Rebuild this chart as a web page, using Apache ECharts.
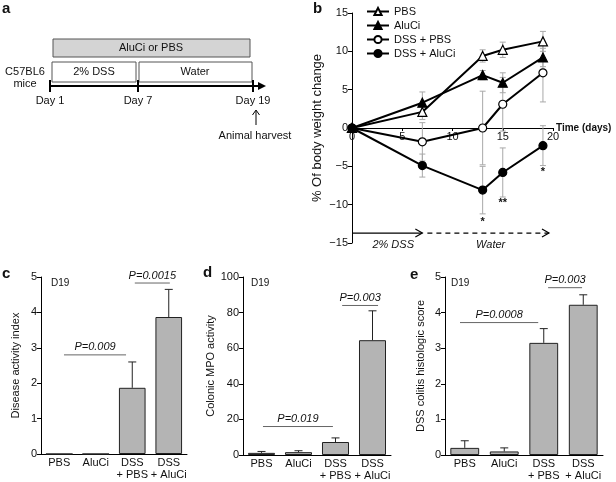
<!DOCTYPE html>
<html>
<head>
<meta charset="utf-8">
<script src="https://cdn.jsdelivr.net/npm/echarts@6/dist/echarts.min.js"></script>
<style>
html, body { margin: 0; padding: 0; background: #fff; }
#chart { width: 616px; height: 482px; }
</style>
</head>
<body>
<div id="chart"></div>
<script>
// panel b: % body weight change over time
var days = [0, 7, 13, 15, 19];
var pbs = [0, 2.1, 9.4, 10.2, 11.3];
var pbsErr = [0, 1.0, 0.8, 1.0, 1.3];
var aluci = [0, 3.3, 6.9, 5.9, 9.2];
var aluciErr = [0, 1.4, 0.6, 1.3, 1.2];
var dssPbs = [0, -1.8, 0, 3.1, 7.2];
var dssPbsErr = [0, 2.5, 4.8, 3.5, 3.8];
var dssAluci = [0, -4.9, -8.1, -5.8, -2.3];
var dssAluciErr = [0, 1.5, 3.1, 3.2, 2.6];
var stars = [[13, -12.2, '*'], [15, -9.8, '**'], [19, -5.8, '*']];
var phases = [[0.1, 7.0, -13.7, 0, '2% DSS', 4.1], [7.5, 19.6, -13.7, 1, 'Water', 13.8]];

// panels c, d, e: day 19
var groups = ['PBS', 'AluCi', 'DSS\n+ PBS', 'DSS\n+ AluCi'];
var dai = [0, 0, 1.87, 3.87];
var daiErr = [0, 0, 0.73, 0.78];
var mpo = [1.2, 1.6, 7.3, 64.5];
var mpoErr = [0.8, 0.8, 2.3, 16.5];
var histo = [0.2, 0.1, 3.15, 4.22];
var histoErr = [0.2, 0.1, 0.4, 0.28];
var daiP = [[0.13, 1.83, 2.8, 'P=0.009'], [2.07, 3.03, 4.83, 'P=0.0015']];
var mpoP = [[0.04, 1.93, 16, 'P=0.019'], [2.18, 3.15, 84, 'P=0.003']];
var histoP = [[-0.12, 1.86, 3.72, 'P=0.0008'], [2.11, 2.97, 4.7, 'P=0.003']];

var FONT = "'Liberation Sans', Arial, sans-serif";

function txt(x, y, s, opt) {
  opt = opt || {};
  return {
    type: 'text', x: x, y: y, silent: true,
    style: {
      text: s, fill: '#111',
      font: (opt.font || '11px') + ' ' + FONT,
      align: opt.align || 'center', textAlign: opt.align || 'center',
      verticalAlign: 'middle', textVerticalAlign: 'middle'
    }
  };
}
function ln(x1, y1, x2, y2, w, c) {
  return { type: 'line', silent: true, shape: { x1: x1, y1: y1, x2: x2, y2: y2 },
    style: { stroke: c || '#000', lineWidth: w || 1 } };
}

// error bars for the time course (symmetric, grey)
function pack(vals, errs) {
  return days.map(function (d, i) { return [d, vals[i], errs[i]]; });
}
var errB = [].concat(pack(pbs, pbsErr), pack(aluci, aluciErr), pack(dssPbs, dssPbsErr), pack(dssAluci, dssAluciErr))
  .filter(function (r) { return r[2] > 0; });

function errSym(params, api) {
  var x = api.value(0), y = api.value(1), e = api.value(2);
  var t = api.coord([x, y + e]), b = api.coord([x, y - e]);
  var st = { stroke: '#a8a8a8', lineWidth: 1 };
  return { type: 'group', children: [
    { type: 'line', shape: { x1: t[0], y1: t[1], x2: b[0], y2: b[1] }, style: st },
    { type: 'line', shape: { x1: t[0] - 3, y1: t[1], x2: t[0] + 3, y2: t[1] }, style: st },
    { type: 'line', shape: { x1: b[0] - 3, y1: b[1], x2: b[0] + 3, y2: b[1] }, style: st }
  ] };
}
function errUp(params, api) {
  var x = api.value(0), y = api.value(1), e = api.value(2);
  if (!(e > 0)) return null;
  var p = api.coord([x, y]), t = api.coord([x, y + e]);
  var st = { stroke: '#222', lineWidth: 1 };
  return { type: 'group', children: [
    { type: 'line', shape: { x1: p[0], y1: p[1], x2: t[0], y2: t[1] }, style: st },
    { type: 'line', shape: { x1: t[0] - 4, y1: t[1], x2: t[0] + 4, y2: t[1] }, style: st }
  ] };
}
function bracketFor(rows) {
  return function (params, api) {
    var r = rows[params.dataIndex];
    var base = api.coord([0, r[2]]);
    var w = api.size([1, 0])[0];
    var x1 = base[0] + r[0] * w, x2 = base[0] + r[1] * w;
    return { type: 'group', children: [
      { type: 'line', shape: { x1: x1, y1: base[1], x2: x2, y2: base[1] }, style: { stroke: '#666', lineWidth: 1 } },
      { type: 'text', x: (x1 + x2) / 2, y: base[1] - 2,
        style: { text: r[3], fill: '#111', font: 'italic 11px ' + FONT,
          align: 'center', textAlign: 'center', verticalAlign: 'bottom', textVerticalAlign: 'bottom' } }
    ] };
  };
}
function starItem(params, api) {
  var r = stars[params.dataIndex];
  var p = api.coord([r[0], r[1]]);
  return { type: 'text', x: p[0], y: p[1],
    style: { text: r[2], fill: '#111', font: 'bold 11px ' + FONT,
      align: 'center', textAlign: 'center', verticalAlign: 'middle', textVerticalAlign: 'middle' } };
}
function phaseItem(params, api) {
  var r = phases[params.dataIndex];
  var a = api.coord([r[0], r[2]]), b = api.coord([r[1], r[2]]);
  var lab = api.coord([r[5], r[2]]);
  var st = { stroke: '#000', lineWidth: 1.2, lineDash: r[3] ? [5, 4] : null };
  return { type: 'group', children: [
    { type: 'line', shape: { x1: a[0], y1: a[1], x2: b[0], y2: b[1] }, style: st },
    { type: 'polyline', shape: { points: [[b[0] - 7, b[1] - 4], [b[0], b[1]], [b[0] - 7, b[1] + 4]] },
      style: { stroke: '#000', lineWidth: 1.2, fill: null } },
    { type: 'text', x: lab[0], y: lab[1] + 12,
      style: { text: r[4], fill: '#111', font: 'italic 11px ' + FONT,
        align: 'center', textAlign: 'center', verticalAlign: 'middle', textVerticalAlign: 'middle' } }
  ] };
}

function lineSeries(name, vals, sym, filled) {
  return {
    name: name, type: 'line', xAxisIndex: 0, yAxisIndex: 0, z: 3,
    data: days.map(function (d, i) { return [d, vals[i]]; }),
    symbol: sym, symbolSize: sym === 'triangle' ? 9 : 8,
    lineStyle: { color: '#000', width: 2 },
    itemStyle: { color: filled ? '#000' : '#fff', borderColor: '#000', borderWidth: 1.2 }
  };
}
function barAxes(idx) {
  return {
    type: 'category', gridIndex: idx, data: groups,
    axisLine: { lineStyle: { color: '#000' } },
    axisTick: { length: 4, interval: 0, lineStyle: { color: '#000' } },
    axisLabel: { interval: 0, fontSize: 11, lineHeight: 12, margin: 3, color: '#111', fontFamily: FONT }
  };
}
function valAxis(idx, max, step, name, gap) {
  return {
    type: 'value', gridIndex: idx, min: 0, max: max, interval: step,
    name: name, nameLocation: 'middle', nameGap: gap,
    nameTextStyle: { fontSize: 11, color: '#111', fontFamily: FONT },
    axisLine: { show: true, lineStyle: { color: '#000' } },
    axisTick: { show: true, length: 4, lineStyle: { color: '#000' } },
    axisLabel: { fontSize: 11, margin: 4, color: '#111', fontFamily: FONT },
    splitLine: { show: false }
  };
}
function barSet(idx, vals, errs, pRows) {
  return [
    { type: 'bar', xAxisIndex: idx, yAxisIndex: idx, data: vals, barWidth: '73%',
      itemStyle: { color: '#b4b4b4', borderColor: '#222', borderWidth: 1 }, silent: true },
    { type: 'custom', xAxisIndex: idx, yAxisIndex: idx, renderItem: errUp, z: 4, silent: true,
      encode: { x: 0, y: 1 }, data: vals.map(function (v, i) { return [i, v, errs[i]]; }) },
    { type: 'custom', xAxisIndex: idx, yAxisIndex: idx, renderItem: bracketFor(pRows), z: 4, silent: true,
      clip: false, encode: { x: 0, y: 2 }, data: pRows.map(function (r) { return [r[0], r[1], r[2]]; }) }
  ];
}

// panel a schematic + panel letters
var schematic = [
  txt(2, 9, 'a', { font: 'bold 15px', align: 'left' }),
  { type: 'rect', silent: true, shape: { x: 53, y: 39, width: 197, height: 18 },
    style: { fill: '#d4d4d4', stroke: '#555', lineWidth: 1 } },
  txt(151, 48, 'AluCi or PBS'),
  { type: 'rect', silent: true, shape: { x: 52, y: 62, width: 84, height: 20 },
    style: { fill: '#fff', stroke: '#555', lineWidth: 1 } },
  txt(94, 72, '2% DSS'),
  { type: 'rect', silent: true, shape: { x: 139, y: 62, width: 113, height: 20 },
    style: { fill: '#fff', stroke: '#555', lineWidth: 1 } },
  txt(195, 72, 'Water'),
  ln(50, 86, 262, 86, 2),
  { type: 'polygon', silent: true, shape: { points: [[258, 82], [266, 86], [258, 90]] }, style: { fill: '#000' } },
  ln(50, 80, 50, 92, 2), ln(138, 80, 138, 92, 2), ln(253, 80, 253, 92, 2),
  txt(25, 72, 'C57BL6'), txt(25, 84, 'mice'),
  txt(50, 101, 'Day 1'), txt(138, 101, 'Day 7'), txt(253, 101, 'Day 19'),
  ln(256, 125, 256, 111, 1),
  { type: 'polyline', silent: true, shape: { points: [[252.5, 115], [256, 110], [259.5, 115]] },
    style: { stroke: '#000', lineWidth: 1, fill: null } },
  txt(255, 136, 'Animal harvest'),
  txt(313, 9, 'b', { font: 'bold 15px', align: 'left' }),
  txt(556, 128, 'Time (days)', { font: 'bold 10px', align: 'left' }),
  txt(2, 274, 'c', { font: 'bold 15px', align: 'left' }),
  txt(203, 273, 'd', { font: 'bold 15px', align: 'left' }),
  txt(410, 275, 'e', { font: 'bold 15px', align: 'left' }),
  txt(51, 283, 'D19', { font: '10px', align: 'left' }),
  txt(251, 283, 'D19', { font: '10px', align: 'left' }),
  txt(451, 283, 'D19', { font: '10px', align: 'left' })
];

var chart = echarts.init(document.getElementById('chart'));
chart.setOption({
  animation: false,
  backgroundColor: '#fff',
  textStyle: { fontFamily: FONT },
  graphic: { elements: schematic },
  legend: {
    left: 361, top: 1, orient: 'vertical', itemWidth: 22, itemHeight: 9, itemGap: 3,
    textStyle: { fontSize: 11, color: '#111', fontFamily: FONT },
    data: ['PBS', 'AluCi', 'DSS + PBS', 'DSS + AluCi']
  },
  grid: [
    { left: 352, top: 13, width: 201, height: 230, outerBoundsMode: 'none' },
    { left: 41, top: 277, width: 146, height: 177, outerBoundsMode: 'none' },
    { left: 243, top: 277, width: 148, height: 178, outerBoundsMode: 'none' },
    { left: 445, top: 277, width: 158, height: 178, outerBoundsMode: 'none' }
  ],
  xAxis: [
    // time axis drawn through y = 0 (middle of the -15..15 range)
    { type: 'value', gridIndex: 0, min: 0, max: 20, interval: 5, offset: -115,
      axisLine: { onZero: false, lineStyle: { color: '#000' } },
      axisTick: { show: true, length: 3, lineStyle: { color: '#000' } },
      axisLabel: { fontSize: 11, margin: 3, color: '#111', fontFamily: FONT },
      splitLine: { show: false } },
    barAxes(1), barAxes(2), barAxes(3)
  ],
  yAxis: [
    { type: 'value', gridIndex: 0, min: -15, max: 15, interval: 5,
      name: '% Of body weight change', nameLocation: 'middle', nameGap: 28,
      nameTextStyle: { fontSize: 13, color: '#111', fontFamily: FONT },
      axisLine: { show: true, lineStyle: { color: '#000' } },
      axisTick: { show: true, length: 4, lineStyle: { color: '#000' } },
      axisLabel: { fontSize: 11, margin: 4, color: '#111', fontFamily: FONT,
        formatter: function (v) { return v < 0 ? '\u2212' + Math.abs(v) : String(v); } },
      splitLine: { show: false } },
    valAxis(1, 5, 1, 'Disease activity index', 20),
    valAxis(2, 100, 20, 'Colonic MPO activity', 22),
    valAxis(3, 5, 1, 'DSS colitis histologic score', 19)
  ],
  series: [
    { type: 'custom', xAxisIndex: 0, yAxisIndex: 0, renderItem: errSym, z: 1, silent: true,
      encode: { x: 0, y: 1 }, data: errB },
    lineSeries('PBS', pbs, 'triangle', false),
    lineSeries('AluCi', aluci, 'triangle', true),
    lineSeries('DSS + PBS', dssPbs, 'circle', false),
    lineSeries('DSS + AluCi', dssAluci, 'circle', true),
    { type: 'custom', xAxisIndex: 0, yAxisIndex: 0, renderItem: starItem, z: 4, silent: true,
      encode: { x: 0, y: 1 }, data: stars.map(function (s) { return [s[0], s[1]]; }) },
    { type: 'custom', xAxisIndex: 0, yAxisIndex: 0, renderItem: phaseItem, z: 4, silent: true, clip: false,
      encode: { x: 0, y: 2 }, data: phases.map(function (p) { return [p[0], p[1], p[2]]; }) }
  ].concat(barSet(1, dai, daiErr, daiP), barSet(2, mpo, mpoErr, mpoP), barSet(3, histo, histoErr, histoP))
});
</script>
</body>
</html>
